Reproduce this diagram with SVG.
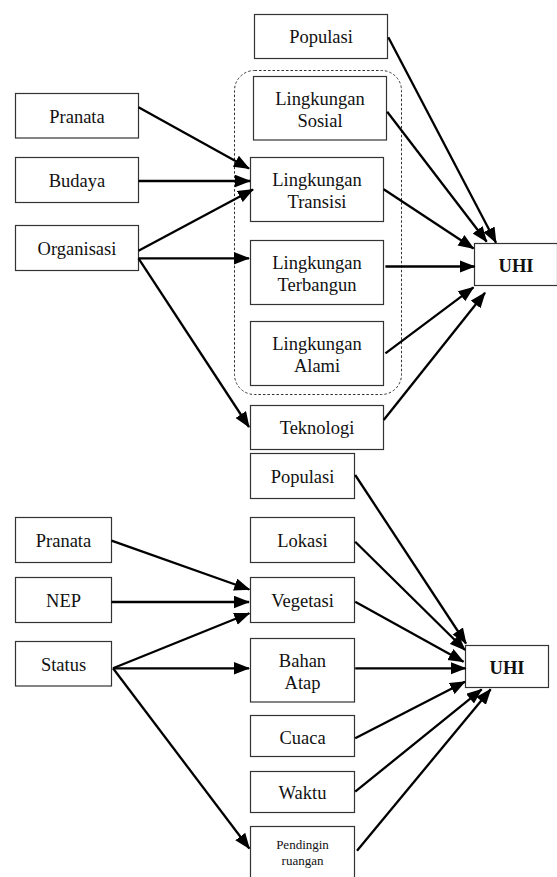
<svg xmlns="http://www.w3.org/2000/svg" width="557" height="877" viewBox="0 0 557 877">
<style>
.b{fill:#fff;stroke:#333;stroke-width:1.2}
.t{font-family:"Liberation Serif","Times New Roman",serif;font-size:18.5px;fill:#111;text-anchor:middle}
.s{font-size:13px}
.u{font-weight:bold}
.c line{stroke:#000;stroke-width:2.3;marker-end:url(#ah)}
</style>
<defs>
<marker id="ah" markerUnits="userSpaceOnUse" markerWidth="17" markerHeight="13" refX="15" refY="6.25" orient="auto">
<path d="M0,0 L16,6.25 L0,12.5 z" fill="#000"/>
</marker>
</defs>
<rect x="234.5" y="70.5" width="167" height="324" rx="20" fill="none" stroke="#333" stroke-width="1" stroke-dasharray="2.5,2"/>
<g id="populasi1"><rect class="b" x="254.5" y="14.5" width="133" height="44"/><text class="t" x="321" y="43">Populasi</text></g>
<g id="sosial"><rect class="b" x="253.5" y="76.5" width="133" height="63.5"/><text class="t" x="320" y="104.5">Lingkungan</text><text class="t" x="320" y="126.5">Sosial</text></g>
<g id="pranata1"><rect class="b" x="15.5" y="93.5" width="123" height="44.5"/><text class="t" x="77" y="122.5">Pranata</text></g>
<g id="budaya"><rect class="b" x="15.5" y="157.5" width="123" height="45"/><text class="t" x="77" y="186.5">Budaya</text></g>
<g id="transisi"><rect class="b" x="250.5" y="157.5" width="133" height="64"/><text class="t" x="317" y="185.5">Lingkungan</text><text class="t" x="317" y="207.5">Transisi</text></g>
<g id="organisasi"><rect class="b" x="15.5" y="225.5" width="123" height="45"/><text class="t" x="77" y="254.5">Organisasi</text></g>
<g id="terbangun"><rect class="b" x="250.5" y="240.5" width="133" height="64"/><text class="t" x="317" y="268.5">Lingkungan</text><text class="t" x="317" y="290.5">Terbangun</text></g>
<g id="uhi1"><rect class="b" x="474.5" y="243.5" width="83" height="42"/><text class="t u" x="516" y="271.5">UHI</text></g>
<g id="alami"><rect class="b" x="250.5" y="321.5" width="133" height="64"/><text class="t" x="317" y="349.5">Lingkungan</text><text class="t" x="317" y="371.5">Alami</text></g>
<g id="teknologi"><rect class="b" x="250.5" y="405.5" width="133" height="44"/><text class="t" x="317" y="433.5">Teknologi</text></g>
<g id="populasi2"><rect class="b" x="250.5" y="453.5" width="104" height="45"/><text class="t" x="302.5" y="482.5">Populasi</text></g>
<g id="pranata2"><rect class="b" x="15.5" y="517.5" width="96" height="45"/><text class="t" x="63.5" y="546.5">Pranata</text></g>
<g id="lokasi"><rect class="b" x="250.5" y="517.5" width="104" height="45"/><text class="t" x="302.5" y="546.5">Lokasi</text></g>
<g id="nep"><rect class="b" x="15.5" y="577.5" width="96" height="45"/><text class="t" x="63.5" y="606.5">NEP</text></g>
<g id="vegetasi"><rect class="b" x="250.5" y="577.5" width="104" height="45"/><text class="t" x="302.5" y="606.5">Vegetasi</text></g>
<g id="status"><rect class="b" x="15.5" y="641.5" width="96" height="44.5"/><text class="t" x="63.5" y="670.5">Status</text></g>
<g id="bahanatap"><rect class="b" x="250.5" y="638.5" width="104" height="63.5"/><text class="t" x="302.5" y="666.5">Bahan</text><text class="t" x="302.5" y="688.5">Atap</text></g>
<g id="uhi2"><rect class="b" x="465.5" y="645.5" width="83" height="42"/><text class="t u" x="507" y="673.5">UHI</text></g>
<g id="cuaca"><rect class="b" x="250.5" y="715.5" width="104" height="41"/><text class="t" x="302.5" y="744">Cuaca</text></g>
<g id="waktu"><rect class="b" x="250.5" y="771.5" width="104" height="41"/><text class="t" x="302.5" y="799">Waktu</text></g>
<g id="pendingin"><rect class="b" x="250.5" y="826.5" width="104" height="60"/><text class="t s" x="302.5" y="848.5">Pendingin</text><text class="t s" x="302.5" y="864.5">ruangan</text></g>
<g class="c" id="connectors">
<line x1="138.5" y1="107.3" x2="249" y2="168.5"/>
<line x1="138.5" y1="181" x2="250" y2="181"/>
<line x1="138.5" y1="250.7" x2="253" y2="189.5"/>
<line x1="138.5" y1="258.3" x2="249" y2="258.3"/>
<line x1="138.5" y1="258.3" x2="249" y2="427"/>
<line x1="388.3" y1="37.3" x2="496" y2="242.7"/>
<line x1="387.2" y1="111.7" x2="486.7" y2="241.7"/>
<line x1="383.7" y1="189.3" x2="473.5" y2="248.5"/>
<line x1="385.4" y1="266.5" x2="474.5" y2="266.5"/>
<line x1="385.4" y1="353.3" x2="473.5" y2="287.3"/>
<line x1="383.7" y1="420" x2="485" y2="292.7"/>
<line x1="111.5" y1="540.7" x2="249.3" y2="589.5"/>
<line x1="111.5" y1="602" x2="249" y2="602"/>
<line x1="113" y1="668.3" x2="249.3" y2="613.3"/>
<line x1="113" y1="668.3" x2="249" y2="668.3"/>
<line x1="113" y1="668.3" x2="249.3" y2="848.5"/>
<line x1="355.2" y1="475" x2="466" y2="643.5"/>
<line x1="355.2" y1="541.7" x2="465" y2="650"/>
<line x1="355.2" y1="601.7" x2="463.5" y2="661.7"/>
<line x1="355.2" y1="668.3" x2="465.5" y2="668.3"/>
<line x1="355.2" y1="738.3" x2="465" y2="681.7"/>
<line x1="355.2" y1="791.7" x2="481.7" y2="689.3"/>
<line x1="357" y1="850.7" x2="490.7" y2="689.3"/>
</g>
</svg>
